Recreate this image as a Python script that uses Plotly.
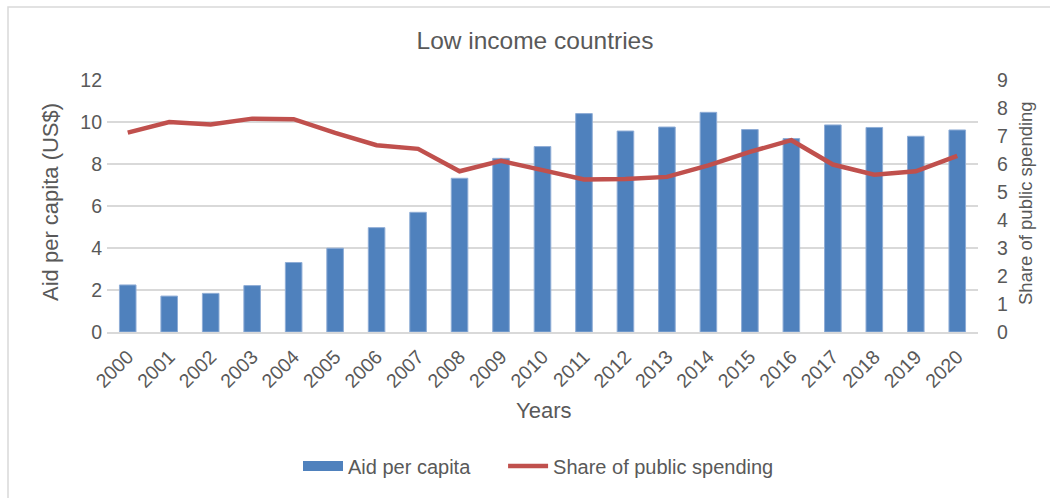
import plotly.graph_objects as go

# Data
years = [str(y) for y in range(2000, 2021)]
aid_per_capita = [2.24, 1.71, 1.84, 2.21, 3.31, 3.99, 4.97, 5.70, 7.32, 8.27, 8.83,
                  10.40, 9.57, 9.76, 10.46, 9.64, 9.21, 9.86, 9.74, 9.32, 9.62]
share_public_spending = [7.12, 7.50, 7.41, 7.62, 7.60, 7.11, 6.67, 6.54, 5.74, 6.11, 5.78,
                         5.45, 5.46, 5.54, 5.95, 6.43, 6.85, 5.98, 5.62, 5.74, 6.29]

BLUE = "#4F81BD"
RED = "#C0504D"
GRID = "#D9D9D9"
TEXT = "#595959"
FONT = "Liberation Sans, Arial, sans-serif"

W, H = 1050, 498
L, R, T, B = 107, 72, 80, 166
pw, ph = W - L - R, H - T - B


def px_x(x):
    return (x - L) / pw


def px_y(y):
    return (H - B - y) / ph


fig = go.Figure()

fig.add_trace(go.Bar(
    x=years, y=aid_per_capita, name="Aid per capita",
    marker=dict(color=BLUE, line=dict(color="#8FADD6", width=1)),
    showlegend=False, yaxis="y",
))
# legend entry drawn as a wide bar swatch
fig.add_trace(go.Scatter(
    x=[None], y=[None], mode="lines", name="Aid per capita     ",
    line=dict(color=BLUE, width=10), showlegend=True,
))
fig.add_trace(go.Scatter(
    x=years, y=share_public_spending, name="Share of public spending",
    mode="lines", line=dict(color=RED, width=4.5), yaxis="y2",
))

annotations = [
    dict(text="Years", x=px_x(543), y=px_y(410), xref="paper", yref="paper",
         xanchor="center", yanchor="middle", showarrow=False,
         font=dict(size=22, color=TEXT)),
    dict(text="Aid per capita (US$)", x=px_x(50), y=px_y(202), xref="paper",
         yref="paper", xanchor="center", yanchor="middle", textangle=-90,
         showarrow=False, font=dict(size=22, color=TEXT)),
    dict(text="Share of public spending", x=px_x(1025), y=px_y(203),
         xref="paper", yref="paper", xanchor="center", yanchor="middle",
         textangle=-90, showarrow=False, font=dict(size=18.5, color=TEXT)),
]

fig.update_layout(
    width=W, height=H,
    margin=dict(l=L, r=R, t=T, b=B, autoexpand=False),
    paper_bgcolor="white", plot_bgcolor="white",
    font=dict(family=FONT, color=TEXT, size=19),
    title=dict(text="Low income countries", x=px_x(535), xref="paper",
               xanchor="center", y=1 - 40 / H, yanchor="middle",
               font=dict(size=24.5, color=TEXT)),
    bargap=0.6,
    showlegend=True,
    legend=dict(orientation="h", x=px_x(298), xanchor="left", xref="paper",
                y=px_y(466), yanchor="middle",
                font=dict(size=20, color=TEXT), itemwidth=40,
                traceorder="normal"),
    xaxis=dict(type="category", tickangle=-45, tickfont=dict(size=19.5),
               showgrid=False, showline=True, linecolor=GRID, linewidth=1.5,
               ticks="", ticklabelstandoff=4),
    yaxis=dict(range=[0, 12], dtick=2, showgrid=True, gridcolor=GRID,
               gridwidth=1.5, zeroline=False, ticks="",
               tickfont=dict(size=19.5), ticklabelstandoff=4),
    yaxis2=dict(range=[0, 9], dtick=1, overlaying="y", side="right",
                showgrid=False, zeroline=False, ticks="",
                tickfont=dict(size=19.5), ticklabelstandoff=18),
    annotations=annotations,
    shapes=[dict(type="rect", xref="paper", yref="paper",
                 x0=px_x(8), x1=px_x(1065), y0=px_y(510), y1=px_y(7),
                 line=dict(color=GRID, width=1.5), fillcolor="rgba(0,0,0,0)",
                 layer="below")],
)

fig.write_html("out.html")
